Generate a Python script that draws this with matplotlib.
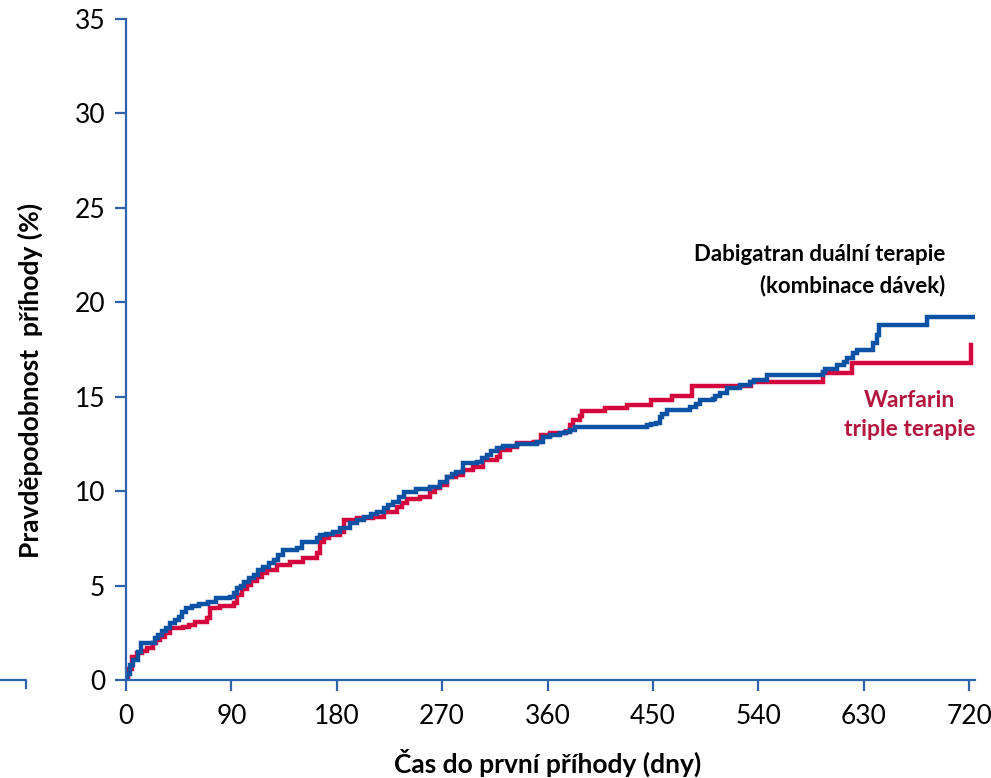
import matplotlib
matplotlib.use("Agg")
import matplotlib.pyplot as plt
from matplotlib.lines import Line2D

plt.rcParams['font.family'] = ['Lato', 'DejaVu Sans']

# Dabigatran dual therapy, Kaplan-Meier style steps (day, cumulative %)
dabi_days = [0, 1, 3, 6, 10, 13, 25, 27, 31, 34, 38, 42, 45, 48, 51, 56, 62, 70, 77, 89,
             92, 95, 98, 101, 105, 109, 113, 117, 122, 126, 130, 134, 146, 150, 163, 166,
             171, 177, 183, 191, 197, 203, 209, 214, 220, 224, 228, 233, 237, 248, 260,
             268, 274, 278, 282, 288, 300, 304, 308, 312, 317, 322, 334, 351, 356, 362,
             371, 375, 379, 383, 445, 448, 453, 456, 458, 462, 482, 487, 490, 501, 503,
             507, 513, 524, 533, 536, 547, 595, 597, 607, 613, 616, 621, 624, 638, 641,
             643, 684, 724]
dabi_pct = [0.0, 0.3, 0.8, 1.05, 1.5, 1.97, 2.2, 2.4, 2.6, 2.75, 3.0, 3.2, 3.35, 3.6, 3.8,
            3.9, 4.0, 4.15, 4.33, 4.41, 4.6, 4.85, 5.0, 5.2, 5.4, 5.56, 5.8, 6.0, 6.2, 6.35,
            6.6, 6.88, 6.97, 7.32, 7.5, 7.68, 7.75, 7.85, 8.03, 8.3, 8.45, 8.65, 8.8, 8.91,
            9.1, 9.25, 9.44, 9.7, 9.97, 10.1, 10.24, 10.5, 10.77, 10.9, 11.03, 11.47, 11.56,
            11.75, 11.91, 12.1, 12.27, 12.39, 12.5, 12.62, 12.88, 12.97, 13.08, 13.15, 13.24,
            13.41, 13.5, 13.55, 13.63, 13.9, 14.1, 14.3, 14.47, 14.6, 14.8, 14.9, 15.04,
            15.18, 15.45, 15.62, 15.8, 15.9, 16.15, 16.32, 16.45, 16.68, 16.85, 17.03, 17.3,
            17.47, 17.83, 18.27, 18.8, 19.2, 19.2]

# Warfarin triple therapy
warf_days = [0, 2, 5, 9, 14, 18, 23, 26, 29, 33, 38, 49, 54, 59, 69, 72, 80, 92, 95, 99,
             103, 107, 112, 116, 120, 129, 140, 151, 163, 166, 169, 173, 183, 186, 197,
             211, 220, 231, 236, 240, 251, 260, 264, 268, 274, 282, 288, 296, 305, 317,
             319, 328, 334, 348, 354, 362, 376, 379, 382, 388, 389, 409, 428, 448, 466,
             483, 534, 595, 620, 722]
warf_pct = [0.0, 0.6, 1.24, 1.41, 1.55, 1.68, 1.94, 2.1, 2.29, 2.5, 2.74, 2.82, 2.91, 3.09,
            3.27, 3.8, 3.92, 4.06, 4.5, 4.8, 5.03, 5.25, 5.47, 5.65, 5.82, 6.09, 6.26, 6.44,
            6.7, 7.32, 7.5, 7.68, 7.85, 8.47, 8.56, 8.65, 8.9, 9.14, 9.35, 9.58, 9.69, 9.97,
            10.15, 10.3, 10.77, 10.85, 11.1, 11.29, 11.65, 11.82, 12.18, 12.35, 12.56, 12.6,
            12.97, 13.06, 13.2, 13.5, 13.77, 13.98, 14.24, 14.38, 14.56, 14.83, 15.04, 15.57,
            15.8, 16.24, 16.77, 17.74]

x_ticks = [0, 90, 180, 270, 360, 450, 540, 630, 720]
y_ticks = [0, 5, 10, 15, 20, 25, 30, 35]

blue = '#0b52a4'
red = '#d5073f'
spine_col = '#2d62ac'

fig = plt.figure(figsize=(9.91, 7.78), dpi=100)
ax = fig.add_axes([126 / 991, 98 / 778, 849 / 991, 661 / 778])

ax.plot(warf_days, warf_pct, drawstyle='steps-post', color=red, lw=3.2, solid_joinstyle='miter')
ax.plot(dabi_days, dabi_pct, drawstyle='steps-post', color=blue, lw=3.2, solid_joinstyle='miter')

ax.set_xlim(0, 725)
ax.set_ylim(0, 35)
ax.set_xticks(x_ticks)
ax.set_yticks(y_ticks)
for s in ['top', 'right']:
    ax.spines[s].set_visible(False)
for s in ['left', 'bottom']:
    ax.spines[s].set_color(spine_col)
    ax.spines[s].set_linewidth(1.6)
ax.tick_params(axis='both', colors=spine_col, width=1.6, length=8, direction='out',
               labelsize=19, labelcolor='black')
ax.tick_params(axis='y', pad=7)
ax.tick_params(axis='x', pad=9)

# axis titles placed in figure pixels as on the slide
fig.text(548 / 991, 1 - 763 / 778, 'Čas do první příhody (dny)', ha='center', va='center',
         fontsize=19, fontweight='bold')
fig.text(30 / 991, 1 - 380 / 778, 'Pravděpodobnost  příhody (%)', ha='center', va='center',
         rotation=90, fontsize=19, fontweight='bold')

ax.text(700, 21.7, 'Dabigatran duální terapie\n(kombinace dávek)', ha='right', va='center',
        multialignment='right', fontsize=16, fontweight='bold', color='black', linespacing=1.5)
ax.text(669, 14.03, 'Warfarin\ntriple terapie', ha='center', va='center',
        fontsize=16.5, fontweight='bold', color='#b3173f', linespacing=1.5)

# stray axis fragment at lower left of the slide
fig.add_artist(Line2D([0, 26 / 991, 26 / 991], [98 / 778, 98 / 778, 90 / 778],
                      color=spine_col, lw=1.6))

fig.savefig('out.png', dpi=100)
